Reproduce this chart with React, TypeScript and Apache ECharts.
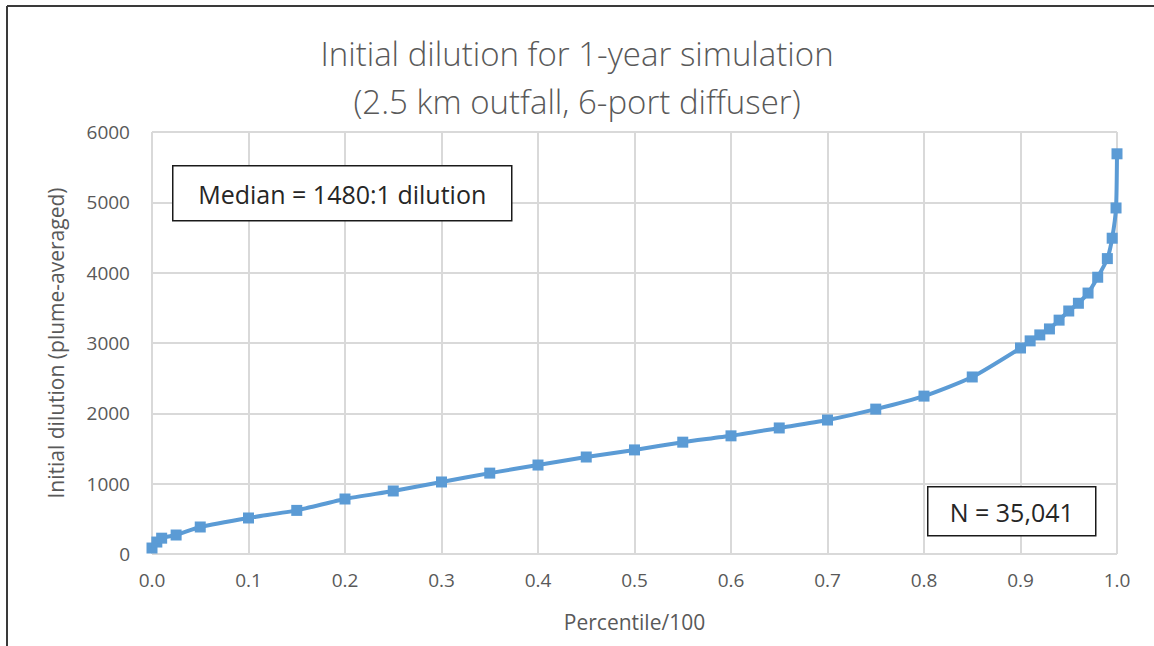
import React, { useEffect, useRef } from "react";
import * as echarts from "echarts";

const percentiles = [0, 0.005, 0.01, 0.025, 0.05, 0.1, 0.15, 0.2, 0.25, 0.3, 0.35, 0.4, 0.45, 0.5, 0.55, 0.6, 0.65, 0.7, 0.75, 0.8, 0.85, 0.9, 0.91, 0.92, 0.93, 0.94, 0.95, 0.96, 0.97, 0.98, 0.99, 0.995, 0.999, 1.0];
const dilution = [85, 170, 225, 270, 384, 512, 620, 782, 896, 1024, 1150, 1265, 1379, 1480, 1590, 1680, 1792, 1905, 2060, 2245, 2517, 2929, 3030, 3115, 3200, 3325, 3455, 3565, 3710, 3935, 4200, 4490, 4920, 5690];

const titleLines = ["Initial dilution for 1-year simulation", "(2.5 km outfall, 6-port diffuser)"];
const xAxisName = "Percentile/100";
const yAxisName = "Initial dilution (plume-averaged)";
const medianNote = "Median = 1480:1 dilution";
const countNote = "N = 35,041";

const FONT = "'Open Sans', 'Noto Sans', sans-serif";

export default function App() {
  const ref = useRef<HTMLDivElement>(null);
  useEffect(() => {
    if (!ref.current) return;
    const chart = echarts.init(ref.current, null, { renderer: "svg" });
    const data = percentiles.map((p, i) => [p, dilution[i]]);
    chart.setOption({
      animation: false,
      backgroundColor: "#ffffff",
      title: {
        text: titleLines.join("\n"),
        left: "center",
        top: 24,
        textStyle: {
          fontFamily: FONT,
          fontWeight: 300,
          fontSize: 33,
          lineHeight: 48,
          color: "#595959",
        },
      },
      grid: { left: 152, right: 37, top: 132, bottom: 92, containLabel: false },
      xAxis: {
        type: "value",
        min: 0,
        max: 1,
        interval: 0.1,
        name: xAxisName,
        nameLocation: "middle",
        nameGap: 57,
        nameTextStyle: { fontFamily: FONT, fontSize: 21, color: "#595959" },
        axisLine: { show: false },
        axisTick: { show: false },
        axisLabel: {
          formatter: (v: number) => v.toFixed(1),
          fontFamily: FONT,
          fontSize: 19,
          color: "#595959",
          margin: 16,
        },
        splitLine: { show: true, lineStyle: { color: "#d9d9d9", width: 2 } },
      },
      yAxis: {
        type: "value",
        min: 0,
        max: 6000,
        interval: 1000,
        name: yAxisName,
        nameLocation: "middle",
        nameGap: 86,
        nameRotate: 90,
        nameTextStyle: { fontFamily: FONT, fontSize: 21, color: "#595959" },
        axisLine: { show: false },
        axisTick: { show: false },
        axisLabel: {
          formatter: (v: number) => String(v),
          fontFamily: FONT,
          fontSize: 19,
          color: "#595959",
          margin: 22,
        },
        splitLine: { show: true, lineStyle: { color: "#d9d9d9", width: 2 } },
      },
      series: [
        {
          type: "line",
          data,
          smooth: 0.2,
          symbol: "rect",
          symbolSize: 11,
          lineStyle: { color: "#5B9BD5", width: 4 },
          itemStyle: { color: "#5B9BD5" },
          z: 3,
        },
      ],
      graphic: [
        { type: "line", z: 100, shape: { x1: 7, y1: 6, x2: 1154, y2: 6 }, style: { stroke: "#3a3a3a", lineWidth: 2 } },
        { type: "line", z: 100, shape: { x1: 7, y1: 6, x2: 7, y2: 646 }, style: { stroke: "#3a3a3a", lineWidth: 2 } },
        {
          type: "group",
          left: 172,
          top: 165,
          z: 100,
          children: [
            { type: "rect", z: 100, shape: { x: 0, y: 0, width: 339, height: 55 }, style: { fill: "#ffffff", stroke: "#1a1a1a", lineWidth: 1.5 } },
            {
              type: "text",
              z: 101,
              style: {
                x: 169.5,
                y: 28,
                text: medianNote,
                align: "center",
                verticalAlign: "middle",
                fontFamily: FONT,
                fontSize: 25,
                fill: "#262626",
              },
            },
          ],
        },
        {
          type: "group",
          left: 927,
          top: 486,
          z: 100,
          children: [
            { type: "rect", z: 100, shape: { x: 0, y: 0, width: 168, height: 49 }, style: { fill: "#ffffff", stroke: "#1a1a1a", lineWidth: 1.5 } },
            {
              type: "text",
              z: 101,
              style: {
                x: 84,
                y: 25,
                text: countNote,
                align: "center",
                verticalAlign: "middle",
                fontFamily: FONT,
                fontSize: 25,
                fill: "#262626",
              },
            },
          ],
        },
      ],
    });
    return () => chart.dispose();
  }, []);
  return (
    <div
      ref={ref}
      style={{ position: "absolute", left: 0, top: 0, width: 1154, height: 646 }}
    />
  );
}
